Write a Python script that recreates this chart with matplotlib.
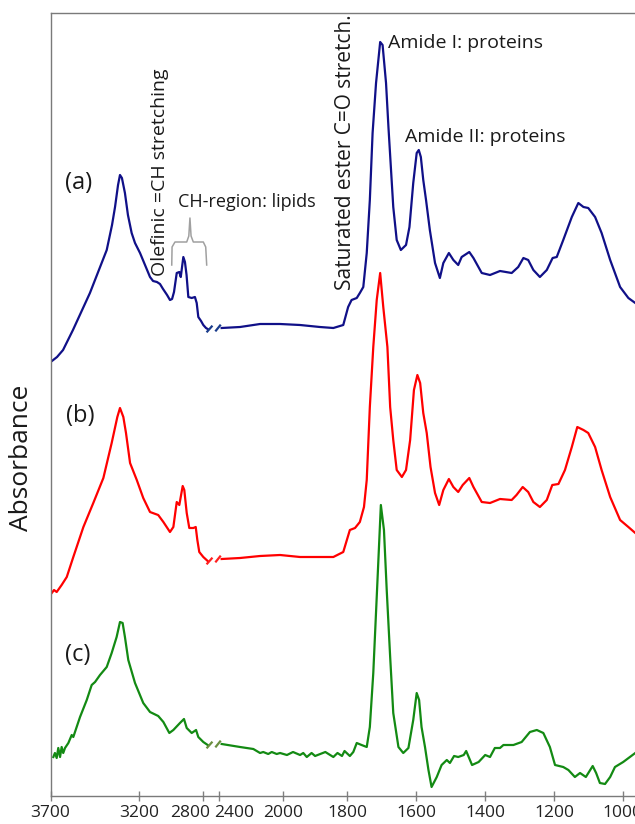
import numpy as np
import matplotlib
matplotlib.use("Agg")
import matplotlib.pyplot as plt
from matplotlib.ticker import FixedLocator, NullLocator
from matplotlib.transforms import ScaledTranslation

plt.rcParams['font.family'] = ['Open Sans', 'DejaVu Sans']

# ---------------- data ----------------
TICK_WN = [3700, 3200, 2800, 2400, 2000, 1800, 1600, 1400, 1200, 1000]

# spectrum (a)
wn_a = [3692, 3663, 3629, 3573, 3477, 3382, 3352, 3335, 3318, 3307, 3296, 3279, 3262, 3241, 3222,
        3193, 3162, 3131, 3112, 3088, 3069, 3050, 3025, 3007, 2994, 2982, 2965, 2949, 2940, 2924,
        2914, 2904, 2893, 2872, 2852, 2841, 2831, 2814, 2800, 2732, 2690,
        2384, 2269, 2144, 2019, 1947, 1885, 1843, 1812, 1797, 1787, 1772, 1763, 1753, 1743, 1734,
        1726, 1716, 1704, 1697, 1687, 1680, 1673, 1666, 1656, 1644, 1629, 1619, 1608, 1598, 1592,
        1586, 1579, 1571, 1560, 1545, 1531, 1521, 1505, 1492, 1478, 1468, 1446, 1434, 1410, 1386,
        1357, 1323, 1304, 1289, 1275, 1260, 1241, 1221, 1204, 1192, 1173, 1148, 1129, 1114, 1100,
        1080, 1061, 1036, 1007, 983, 963, 934]
abs_a = [5, 9, 16, 36, 73, 116, 141, 159, 181, 191, 188, 173, 151, 133, 123,
         113, 101, 89, 85, 84, 82, 77, 71, 66, 67, 74, 93, 94, 89, 109,
         104, 91, 69, 68, 69, 63, 49, 45, 41, 38, 37,
         38, 39, 42, 42, 41, 39, 38, 41, 59, 66, 68, 73, 79, 113, 166,
         233, 283, 324, 321, 283, 239, 199, 159, 126, 116, 121, 139, 183, 213, 216,
         209, 186, 166, 136, 103, 88, 103, 113, 106, 101, 109, 114, 108, 93, 91,
         95, 93, 99, 108, 106, 96, 89, 96, 108, 109, 126, 149, 163, 159, 158,
         149, 133, 106, 79, 68, 63, 56]

# spectrum (b)
wn_b = [3693, 3680, 3665, 3637, 3608, 3571, 3514, 3458, 3401, 3354, 3322, 3307, 3288, 3273, 3250,
        3212, 3173, 3131, 3080, 3048, 3007, 2986, 2965, 2949, 2928, 2918, 2903, 2887, 2862, 2847,
        2837, 2825, 2800, 2690,
        2384, 2269, 2144, 2019, 1947, 1843, 1812, 1792, 1777, 1763, 1751, 1743, 1734, 1724, 1714,
        1704, 1695, 1683, 1675, 1666, 1656, 1641, 1629, 1617, 1606, 1596, 1588, 1579, 1569, 1558,
        1545, 1533, 1521, 1505, 1492, 1478, 1465, 1446, 1434, 1410, 1386, 1357, 1323, 1309, 1291,
        1275, 1260, 1241, 1221, 1205, 1187, 1168, 1148, 1132, 1114, 1100, 1080, 1061, 1036, 1007,
        983, 963, 934]
abs_b = [13, 16, 14, 21, 29, 49, 79, 103, 128, 163, 189, 198, 189, 173, 143,
         126, 108, 94, 91, 84, 74, 79, 104, 101, 120, 116, 93, 78, 78, 79,
         66, 54, 49, 45,
         47, 48, 50, 51, 49, 49, 54, 76, 78, 84, 99, 126, 199, 259, 306,
         333, 299, 259, 199, 166, 136, 129, 136, 166, 216, 231, 223, 193, 173, 139,
         113, 101, 116, 127, 119, 114, 121, 128, 119, 104, 103, 107, 106, 111, 119,
         114, 104, 99, 106, 121, 122, 136, 159, 179, 176, 173, 159, 136, 109, 86,
         79, 73, 66]

# spectrum (c)
wn_c = [3684, 3675, 3665, 3656, 3646, 3637, 3628, 3618, 3599, 3580, 3571, 3533, 3495, 3467, 3448,
        3420, 3382, 3354, 3326, 3307, 3292, 3279, 3260, 3222, 3173, 3131, 3080, 3048, 3011, 2986,
        2945, 2920, 2903, 2872, 2845, 2831, 2800, 2689,
        2384, 2269, 2186, 2144, 2124, 2093, 2071, 2040, 2019, 1988, 1969, 1947, 1937, 1926, 1911,
        1900, 1868, 1843, 1830, 1816, 1808, 1792, 1782, 1772, 1758, 1743, 1734, 1724, 1714, 1702,
        1693, 1685, 1675, 1666, 1651, 1637, 1622, 1608, 1598, 1591, 1584, 1574, 1564, 1555, 1540,
        1526, 1511, 1502, 1490, 1478, 1462, 1455, 1438, 1419, 1400, 1386, 1372, 1357, 1347, 1318,
        1294, 1270, 1250, 1231, 1212, 1197, 1173, 1158, 1139, 1124, 1107, 1087, 1077, 1066, 1051,
        1036, 1022, 998, 963, 934]
abs_c = [39, 43, 38, 48, 39, 49, 43, 48, 53, 61, 59, 79, 96, 111, 114,
         121, 129, 143, 159, 174, 173, 159, 136, 113, 93, 84, 80, 74, 63, 66,
         73, 77, 68, 63, 66, 59, 54, 51,
         52, 49, 47, 43, 44, 42, 44, 42, 43, 41, 44, 41, 43, 39, 43,
         40, 44, 39, 43, 40, 45, 40, 44, 53, 51, 49, 69, 123, 199, 291,
         266, 206, 139, 83, 49, 43, 48, 76, 103, 96, 69, 49, 26, 9, 19,
         31, 36, 33, 40, 39, 41, 45, 31, 34, 41, 39, 48, 48, 51, 51,
         54, 64, 66, 63, 49, 31, 29, 26, 19, 23, 19, 30, 23, 13, 12,
         19, 29, 34, 43, 51]

OFFSETS = [430, 190, 0]
LABELS = ['(a)', '(b)', '(c)']
COLORS = ['#101088', '#ff0000', '#138a13']
MARK_COLORS = ['#1a3c8c', '#ff2020', '#6b8f40']

# broken axis: wavenumber -> relative position along x axis (piecewise)
SCALE_WN = np.array([3800, 3700, 3200, 2800, 2400, 2000, 1800, 1600, 1400, 1200, 1000, 600], float)
SCALE_POS = np.array([32.8, 50.5, 138.9, 203.3, 219.1, 283.1, 347.1, 416.0, 485.2, 554.0, 622.5, 760.5])
BREAK_HI, BREAK_LO = 2689, 2400


def fwd(w):
    # increasing function of wavenumber
    w = np.asarray(w, float)
    return -np.interp(-w, -SCALE_WN, SCALE_POS)


def inv(p):
    p = np.asarray(p, float)
    return np.interp(-p, SCALE_POS, SCALE_WN)


W, H = 635, 824
fig = plt.figure(figsize=(W / 100, H / 100), dpi=100)
ax_left, ax_right, ax_top, ax_bot = 50.5, 660, 12.7, 796
ax = fig.add_axes([ax_left / W, 1 - ax_bot / H, (ax_right - ax_left) / W, (ax_bot - ax_top) / H])
ax.set_xscale('function', functions=(fwd, inv))
ax.set_xlim(3700, float(np.interp(ax_right, SCALE_POS, SCALE_WN)))
ax.set_ylim(0, ax_bot - ax_top)

spectra = [(wn_a, abs_a), (wn_b, abs_b), (wn_c, abs_c)]
for (wn, ab), off, col, mcol in zip(spectra, OFFSETS, COLORS, MARK_COLORS):
    wn = np.array(wn, float)
    y = np.array(ab, float) + off
    hi = wn >= BREAK_HI
    lo = wn <= BREAK_LO
    ax.plot(wn[hi], y[hi], color=col, lw=1.6, solid_joinstyle='round')
    ax.plot(wn[lo], y[lo], color=col, lw=1.6, solid_joinstyle='round')
    # break marks "//"
    lvl_hi = y[hi][-1]
    lvl_lo = y[lo][0]
    ax.plot([2699, 2587], [lvl_hi - 2.5, lvl_hi + 2.5], color=mcol, lw=1.6)
    ax.plot([2478, 2394], [lvl_lo - 2.5, lvl_lo + 2.5], color=mcol, lw=1.6)

# brace over CH region
brace_w = [2996, 2994, 2976, 2903, 2890, 2883, 2876, 2862, 2800, 2739, 2714]
brace_v = [531, 549, 554, 554, 560, 578, 560, 554, 554, 549, 531]
ax.plot(brace_w, brace_v, color='#a0a0a0', lw=1.1)

# axes styling
ax.xaxis.set_major_locator(FixedLocator(TICK_WN))
ax.xaxis.set_minor_locator(NullLocator())
ax.set_xticklabels([str(t) for t in TICK_WN])
ax.set_yticks([])
ax.tick_params(axis='x', direction='inout', length=7.5, width=1, color='#808080',
               labelsize=12.5, labelcolor='#222222', pad=2.5)
for s in ['left', 'top', 'bottom']:
    ax.spines[s].set_color('#7a7a7a')
    ax.spines[s].set_linewidth(1.0)
ax.spines['right'].set_visible(False)

# make sure high wavenumbers are on the left
x_hi = ax.transData.transform([[3700, 0]])[0, 0]
x_lo = ax.transData.transform([[1000, 0]])[0, 0]
if x_hi > x_lo:
    ax.invert_xaxis()

# labels next to the axis break are pushed apart
shifts = {2800: -13, 2400: 14.7}
for t, lab in zip(TICK_WN, ax.get_xticklabels()):
    if t in shifts:
        lab.set_transform(lab.get_transform() + ScaledTranslation(shifts[t] / 100, 0, fig.dpi_scale_trans))


def px(x, y):
    return x / W, 1 - y / H


tc = '#1a1a1a'
for lab, pos in zip(LABELS, [(78.5, 183), (80, 416), (78, 655)]):
    fig.text(*px(*pos), lab, fontsize=17, ha='center', va='center', color=tc)

fig.text(*px(22, 458), 'Absorbance', fontsize=19, rotation=90, ha='center', va='center', color=tc)
fig.text(*px(160, 172), 'Olefinic =CH stretching', fontsize=14, rotation=90,
         ha='center', va='center', color=tc)
fig.text(*px(178, 202), 'CH-region: lipids', fontsize=13, ha='left', va='center', color=tc)
fig.text(*px(345.5, 152), 'Saturated ester C=O stretch.', fontsize=15, rotation=90,
         ha='center', va='center', color=tc)
fig.text(*px(388, 43), 'Amide I: proteins', fontsize=14, ha='left', va='center', color=tc)
fig.text(*px(405, 137), 'Amide II: proteins', fontsize=14, ha='left', va='center', color=tc)

fig.savefig('out.png', dpi=100)
